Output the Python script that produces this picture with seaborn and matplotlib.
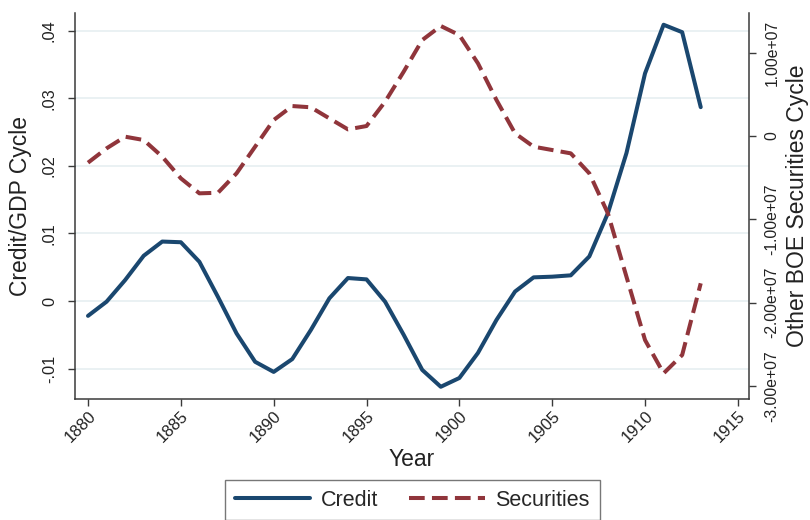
import numpy as np
import pandas as pd
import seaborn as sns
import matplotlib.pyplot as plt
from matplotlib.ticker import FuncFormatter
from matplotlib.lines import Line2D

sns.set_theme(style="white")
plt.rcParams["font.family"] = ["Liberation Sans", "DejaVu Sans"]

years = list(range(1880, 1914))
credit = [
    -0.0022, -0.0001, 0.0031, 0.0067, 0.0088, 0.0087, 0.0058, 0.0006,
    -0.0048, -0.0090, -0.0105, -0.0086, -0.0043, 0.0004, 0.0034, 0.0032,
    -0.0001, -0.0050, -0.0102, -0.0127, -0.0114, -0.0077, -0.0028, 0.0014,
    0.0035, 0.0036, 0.0038, 0.0066, 0.0130, 0.0219, 0.0337, 0.0409,
    0.0398, 0.0287,
]
# securities cycle in units of 1e7
securities = [
    -0.32, -0.148, -0.008, -0.048, -0.248, -0.508, -0.688, -0.681,
    -0.448, -0.128, 0.192, 0.360, 0.345, 0.212, 0.080, 0.120,
    0.412, 0.772, 1.152, 1.321, 1.212, 0.873, 0.432, 0.032,
    -0.128, -0.168, -0.208, -0.448, -0.928, -1.689, -2.449, -2.849,
    -2.629, -1.768,
]
left_ticks = [-0.01, 0, 0.01, 0.02, 0.03, 0.04]
right_ticks = [-3e7, -2e7, -1e7, 0, 1e7]
x_ticks = list(range(1880, 1916, 5))

df = pd.DataFrame({"Year": years, "Credit": credit,
                   "Securities": np.array(securities) * 1e7})

blue = "#1a476f"
red = "#90353b"
axis_col = "#3a3a3a"
txt_col = "#222222"
LW = 2.9
DASH = (3.9, 1.8)

fig = plt.figure(figsize=(8.1, 5.2), dpi=100)
ax = fig.add_axes([0.0926, 0.2327, 0.8321, 0.7423])
ax2 = ax.twinx()

sns.lineplot(data=df, x="Year", y="Credit", ax=ax, color=blue,
             linewidth=LW, zorder=3)
sns.lineplot(data=df, x="Year", y="Securities", ax=ax2, color=red,
             linewidth=LW, zorder=3)
ax2.lines[0].set_dashes(DASH)

ax.set_xlim(1879.3, 1915.6)
ax.set_ylim(-0.01451, 0.04264)
ax2.set_ylim(-3.157e7, 1.477e7)

ax.set_xticks(x_ticks)
ax.set_yticks(left_ticks)
ax2.set_yticks(right_ticks)


def left_fmt(v, pos):
    if abs(v) < 1e-12:
        return "0"
    return f"{v:.2f}".replace("0.", ".")


def right_fmt(v, pos):
    if abs(v) < 1:
        return "0"
    return f"{v:.2e}"


ax.yaxis.set_major_formatter(FuncFormatter(left_fmt))
ax2.yaxis.set_major_formatter(FuncFormatter(right_fmt))

for t in left_ticks:
    ax.axhline(t, color="#e6eff1", linewidth=1.2, zorder=0)

for a in (ax, ax2):
    for s in a.spines.values():
        s.set_visible(False)
    a.tick_params(axis="both", direction="out", length=5, width=1,
                  color=axis_col, labelcolor=txt_col)
    a.grid(False)

ax.spines["left"].set_visible(True)
ax.spines["bottom"].set_visible(True)
ax2.spines["right"].set_visible(True)
for s in (ax.spines["left"], ax.spines["bottom"], ax2.spines["right"]):
    s.set_color(axis_col)
    s.set_linewidth(1.1)

ax.tick_params(axis="x", bottom=True, pad=2, labelsize=12)
ax.tick_params(axis="y", left=True, pad=8, labelsize=11.8)
ax2.tick_params(axis="y", right=True, pad=6, labelsize=11.3)

for lbl in ax.get_yticklabels() + ax2.get_yticklabels():
    lbl.set_rotation(90)
    lbl.set_va("center")
for lbl in ax.get_xticklabels():
    lbl.set_rotation(45)
    lbl.set_ha("right")
    lbl.set_rotation_mode("anchor")

ax.set_xlabel("Year", fontsize=16.5, labelpad=2, color=txt_col)
ax.set_ylabel("Credit/GDP Cycle", fontsize=16.5, labelpad=7, color=txt_col)
ax2.set_ylabel("Other BOE Securities Cycle", fontsize=16.5, labelpad=5,
               color=txt_col)

handles = [
    Line2D([], [], color=blue, linewidth=LW),
    Line2D([], [], color=red, linewidth=LW, dashes=DASH),
]
leg = fig.legend(handles, ["Credit", "Securities"], loc="upper center",
                 bbox_to_anchor=(0.509, 0.0769), ncol=2, fontsize=15.5,
                 frameon=True, fancybox=False, handlelength=3.5,
                 columnspacing=1.45, borderpad=0.45, handletextpad=0.5,
                 borderaxespad=0)
leg.get_frame().set_edgecolor("#555555")
leg.get_frame().set_linewidth(1.0)

fig.savefig("out.png", dpi=100)
